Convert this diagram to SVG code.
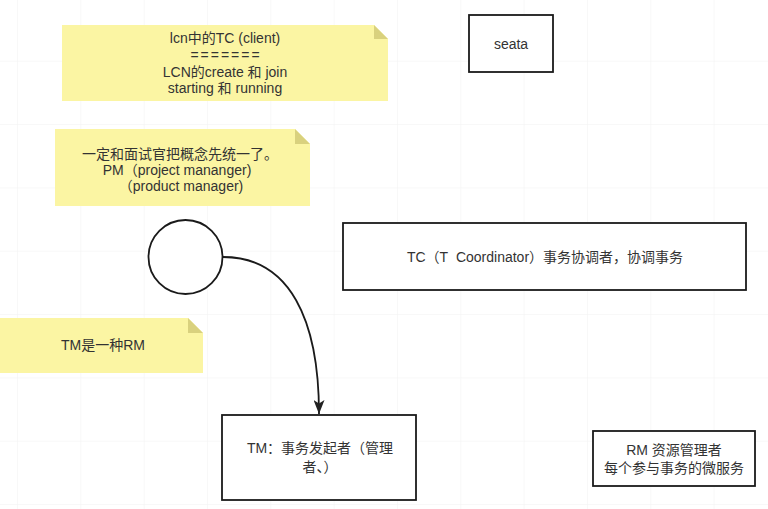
<svg xmlns="http://www.w3.org/2000/svg" width="768" height="509" viewBox="0 0 768 509">
  <defs>
    <pattern id="grid" x="17" y="-2.6" width="63.33" height="63.33" patternUnits="userSpaceOnUse">
      <path d="M0,0 H63.33 M0,0 V63.33" fill="none" stroke="#f2f2f2" stroke-width="1"/>
    </pattern>
    <marker id="arrow" viewBox="0 0 14 11" refX="14" refY="5.5" markerWidth="14" markerHeight="11" markerUnits="userSpaceOnUse" orient="auto">
      <path d="M0,0 L14,5.5 L0,11 L3.5,5.5 Z" fill="#222"/>
    </marker>
    <style>
      .note { fill: #fbf5a3; }
      .fold { fill: #d9d17e; }
      .box { fill: #ffffff; stroke: #1a1a1a; stroke-width: 1.8; }
      .t { font-family: "Liberation Sans", "Noto Sans CJK SC", sans-serif; font-size: 14px; fill: #333333; text-anchor: middle; }
    </style>
  </defs>
  <rect width="768" height="509" fill="#ffffff"/>
  <rect width="768" height="509" fill="url(#grid)"/>

  <g id="note-lcn">
    <path class="note" d="M62,25 H374 L388,39 V101 H62 Z"/>
    <path class="fold" d="M374,25 L388,39 H374 Z"/>
    <text class="t" x="225" y="43">lcn中的TC (client)</text>
    <text class="t" x="226" y="60" letter-spacing="2">=======</text>
    <text class="t" x="225" y="77">LCN的create 和 join</text>
    <text class="t" x="225" y="93">starting 和 running</text>
  </g>

  <g id="seata">
    <rect class="box" x="469" y="15" width="84" height="57"/>
    <text class="t" x="511" y="49">seata</text>
  </g>

  <g id="note-pm">
    <path class="note" d="M55,129 H295 L310,144 V206 H55 Z"/>
    <path class="fold" d="M295,129 L310,144 H295 Z"/>
    <text class="t" x="180" y="159">一定和面试官把概念先统一了。</text>
    <text class="t" x="177" y="175">PM（project mananger)</text>
    <text class="t" x="181" y="191">（product manager)</text>
  </g>

  <g id="circle">
    <circle cx="185.5" cy="257" r="37" fill="#ffffff" stroke="#1a1a1a" stroke-width="1.8"/>
  </g>

  <g id="tc">
    <rect class="box" x="343" y="223" width="403" height="67"/>
    <text class="t" x="545" y="262">TC（T&#160;&#160;Coordinator）事务协调者，协调事务</text>
  </g>

  <g id="note-tm">
    <path class="note" d="M0,318 H188 L203,333 V373 H0 Z"/>
    <path class="fold" d="M188,318 L203,333 H188 Z"/>
    <text class="t" x="103" y="350">TM是一种RM</text>
  </g>

  <g id="tm">
    <rect class="box" x="222" y="415" width="194" height="85"/>
    <text class="t" x="320" y="453">TM：事务发起者（管理</text>
    <text class="t" x="320" y="472">者、）</text>
  </g>

  <g id="rm">
    <rect class="box" x="593" y="431" width="162" height="55"/>
    <text class="t" x="674" y="455">RM 资源管理者</text>
    <text class="t" x="674" y="473">每个参与事务的微服务</text>
  </g>

  <g id="connectors">
    <path d="M223,257 C290,257 319,320 319,414" fill="none" stroke="#1a1a1a" stroke-width="1.8" marker-end="url(#arrow)"/>
  </g>
</svg>
